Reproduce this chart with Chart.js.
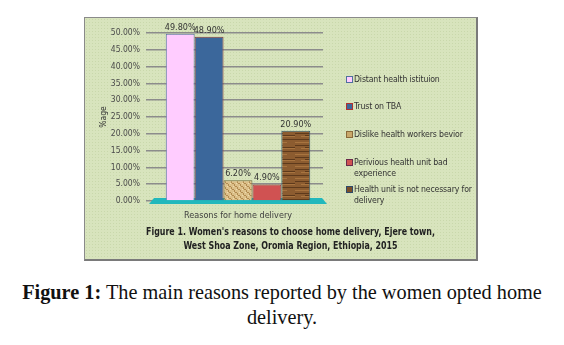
<!DOCTYPE html>
<html>
<head>
<meta charset="utf-8">
<script src="https://cdn.jsdelivr.net/npm/chart.js@4"></script>
<style>
  body { margin: 0; background: #fff; width: 564px; height: 345px; position: relative; overflow: hidden; }
  #box {
    position: absolute; left: 84px; top: 17px; width: 391px; height: 241px;
    border: 1px solid #8a8a8a; border-right: 2px solid #7a7a7a; border-bottom: 2px solid #7a7a7a;
    background-color: #d8e4bd;
    background-image: radial-gradient(#c9d8ab 0.8px, transparent 0.9px);
    background-size: 3px 3px;
  }
  #chart { position: absolute; left: 0; top: 0; }
  #legend { position: absolute; left: 261px; top: 0; width: 128px; font-family: "DejaVu Sans Condensed", "Liberation Sans", sans-serif; font-size: 8.7px; letter-spacing: -0.15px; color: #333; }
  .item { position: absolute; left: 0; width: 130px; line-height: 10.5px; }
  .sw { position: absolute; left: 0; top: 2px; width: 5px; height: 5px; border: 1px solid #333; }
  .txt { margin-left: 8px; width: 122px; }
  #inner {
    position: absolute; left: 10px; width: 391px; top: 207px; text-align: center;
    font-family: "DejaVu Sans Condensed", "Liberation Sans", sans-serif;
    font-weight: bold; font-size: 11px; line-height: 14px; color: #222;
    transform: scaleX(0.8); transform-origin: 50% 0;
  }
  #caption {
    position: absolute; left: 0; width: 564px; top: 280px; text-align: center;
    font-family: "Liberation Serif", "DejaVu Serif", serif; font-size: 20.3px; line-height: 25px; color: #111;
  }
</style>
</head>
<body>
<div id="box">
  <canvas id="chart" width="391" height="241"></canvas>
  <div id="legend"></div>
  <div id="inner">Figure 1. Women's reasons to choose home delivery, Ejere town,<br>West Shoa Zone, Oromia Region, Ethiopia, 2015</div>
</div>
<div id="caption"><b>Figure 1:</b> The main reasons reported by the women opted home<br>delivery.</div>
<script>
// data
let categories = ["Reasons for home delivery"]
let reasons = ["Distant health istituion", "Trust on TBA", "Dislike health workers bevior", "Perivious health unit bad experience", "Health unit is not necessary for delivery"]
let percents = [49.8, 48.9, 6.2, 4.9, 20.9]
let yTicks = [0, 5, 10, 15, 20, 25, 30, 35, 40, 45, 50]
let legendTops = [56, 83, 111, 139, 166]

function makePattern(kind)
{
    let c = document.createElement('canvas')
    let g = c.getContext('2d')
    if(kind == "woven")
    {
        c.width = 6; c.height = 6
        g.fillStyle = "#dcc08a"; g.fillRect(0, 0, 6, 6)
        g.fillStyle = "#b08a50"
        g.fillRect(0, 0, 2, 1); g.fillRect(3, 3, 2, 1); g.fillRect(2, 1, 1, 2); g.fillRect(5, 4, 1, 2)
        g.fillStyle = "#efdcae"
        g.fillRect(4, 0, 1, 1); g.fillRect(1, 3, 1, 1)
    }
    else
    {
        c.width = 30; c.height = 12
        g.fillStyle = "#8c5c30"; g.fillRect(0, 0, 30, 12)
        g.fillStyle = "#5e3a1c"; g.fillRect(0, 1, 30, 1); g.fillRect(0, 7, 18, 1); g.fillRect(10, 9, 20, 1)
        g.fillStyle = "#a8743f"; g.fillRect(0, 4, 22, 1); g.fillRect(6, 10, 24, 1)
    }
    return document.getElementById('chart').getContext('2d').createPattern(c, 'repeat')
}

let fills = ["#ffccff", "#3b679b", makePattern("woven"), "#d05252", makePattern("wood")]
let swatch = ["#ffccff", "#3b679b", "#c9a86a", "#d05252", "#7a4e28"]
let edges = ["#4f6f9f", "#8a3a3a", "#6d6a3a", "#8a2f2f", "#2f5a6a"]
let swEdge = ["#4f6f9f", "#b03030", "#8a6a3a", "#6a2a4a", "#2f4a6a"]

// legend
let out = ``
reasons.forEach((r, i) => {
    out += `<div class="item" style="top:${legendTops[i]}px"><div class="sw" style="background:${swatch[i]};border-color:${swEdge[i]}"></div><div class="txt">${r}</div></div>`
})
document.getElementById('legend').innerHTML = out

const floorPlugin = {
    id: 'floor',
    beforeDatasetsDraw(chart) {
        const a = chart.chartArea
        const ctx = chart.ctx
        ctx.save()
        ctx.fillStyle = "#22b8bc"
        ctx.beginPath()
        ctx.moveTo(a.left - 4, a.bottom + 3)
        ctx.lineTo(a.right + 4, a.bottom + 3)
        ctx.lineTo(a.right - 1, a.bottom - 3)
        ctx.lineTo(a.left + 1, a.bottom - 3)
        ctx.closePath()
        ctx.fill()
        ctx.restore()
    }
}

const labelPlugin = {
    id: 'vals',
    afterDatasetsDraw(chart) {
        const ctx = chart.ctx
        ctx.save()
        ctx.font = '9px "DejaVu Sans Condensed", "Liberation Sans", sans-serif'
        ctx.fillStyle = "#333"
        ctx.textAlign = "center"
        ctx.textBaseline = "bottom"
        chart.data.datasets.forEach((ds, i) => {
            const bar = chart.getDatasetMeta(i).data[0]
            ctx.fillText(ds.data[0].toFixed(2) + '%', bar.x, bar.y - 2)
        })
        ctx.restore()
    }
}

const ctx = document.getElementById('chart').getContext('2d')
const myChart = new Chart(ctx, {
    type: 'bar',
    data: {
        labels: categories,
        datasets: reasons.map((r, i) => ({
            label: r,
            data: [percents[i]],
            backgroundColor: fills[i],
            borderColor: edges[i],
            borderWidth: 1
        }))
    },
    options: {
        responsive: false,
        animation: false,
        devicePixelRatio: 1,
        layout: { padding: { top: 15, right: 153, left: 0, bottom: 0 } },
        plugins: { legend: { display: false }, tooltip: { enabled: false } },
        datasets: { bar: { categoryPercentage: 0.85, barPercentage: 1 } },
        scales: {
            x: {
                grid: { display: false },
                border: { display: false },
                ticks: { color: '#404040', font: { family: '"DejaVu Sans Condensed", "Liberation Sans", sans-serif', size: 9 }, padding: 1 },
                afterFit: (s) => { s.height = 58 }
            },
            y: {
                min: 0, max: 50,
                afterBuildTicks: (s) => { s.ticks = yTicks.map(v => ({ value: v })) },
                ticks: {
                    color: '#4a4a4a',
                    font: { family: '"DejaVu Sans Condensed", "Liberation Sans", sans-serif', size: 8.5 },
                    padding: 6,
                    callback: (v) => v.toFixed(2) + '%'
                },
                grid: { color: '#8c8c8c', lineWidth: 1.5, tickLength: 7 },
                border: { display: false },
                title: { display: true, text: '%age', color: '#333', padding: { top: 14, bottom: 0 }, font: { family: '"DejaVu Sans Condensed", "Liberation Sans", sans-serif', size: 8.5 } },
                afterFit: (s) => { s.width = 68 }
            }
        }
    },
    plugins: [floorPlugin, labelPlugin]
});
</script>
</body>
</html>
